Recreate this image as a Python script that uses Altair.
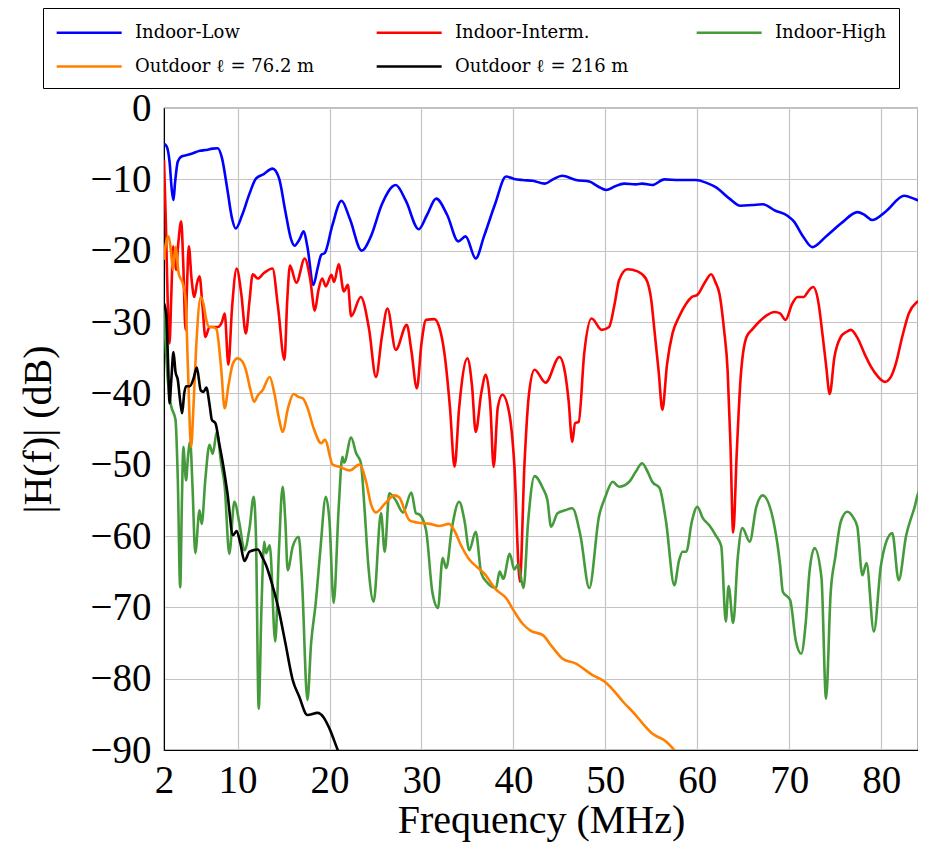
import altair as alt
import pandas as pd

# ---------------- data ----------------
series_names = ["Indoor-Low", "Indoor-Interm.", "Indoor-High",
                "Outdoor ℓ = 76.2 m", "Outdoor ℓ = 216 m"]
series_colors = ["#0000ff", "#ff0000", "#459b3b", "#ff8000", "#000000"]

low_f = [2.0, 2.3, 2.6, 2.85, 3.03, 3.2, 3.5, 3.9, 4.5, 5.0, 5.9, 6.5, 7.3, 7.85, 8.3, 8.9,
         9.4, 9.8, 10.5, 11.3, 12.0, 12.8, 13.8, 14.5, 15.2, 15.8, 16.2, 16.7, 17.2, 17.6,
         18.25, 18.7, 19.1, 19.5, 20.3, 21.3, 22.2, 23.5, 24.5, 25.7, 27.2, 28.3, 29.7, 30.6,
         31.6, 32.8, 34.0, 34.8, 35.9, 36.8, 38.0, 39.2, 40.1, 41.0, 42.1, 43.4, 44.3, 45.3,
         46.8, 48.25, 49.2, 50.1, 51.0, 52.05, 53.3, 54.0, 55.1, 56.4, 58.0, 59.85, 61.0, 62.0,
         63.5, 64.7, 66.0, 67.1, 68.5, 69.8, 70.5, 71.5, 72.5, 74.0, 75.8, 77.4, 78.2, 79.0,
         80.5, 82.5, 83.7, 84.8, 85.5]
low_db = [-5.0, -5.4, -7.5, -11.5, -12.9, -10.5, -7.5, -6.8, -6.6, -6.4, -6.0, -5.9, -5.7, -5.65,
          -7.0, -11.5, -15.5, -16.9, -15.0, -12.0, -9.9, -9.3, -8.5, -9.8, -14.5, -18.3, -19.3,
          -18.5, -17.3, -19.5, -24.8, -22.5, -20.6, -20.3, -16.5, -13.0, -15.5, -20.0, -18.0,
          -13.5, -10.8, -13.0, -17.0, -15.0, -12.7, -15.0, -18.7, -18.0, -21.1, -18.0, -13.5,
          -9.6, -9.95, -10.1, -10.2, -10.6, -10.0, -9.5, -10.1, -10.3, -11.0, -11.5, -11.0,
          -10.6, -10.7, -10.6, -10.8, -10.0, -10.1, -10.1, -10.5, -11.1, -12.7, -13.7, -13.6,
          -13.5, -14.4, -15.1, -15.9, -18.0, -19.5, -18.0, -16.0, -14.6, -15.0, -15.7, -14.5,
          -12.3, -12.8, -13.3, -13.4]

int_f = [2.0, 2.2, 2.4, 2.6, 2.8, 3.0, 3.3, 3.55, 3.87, 4.1, 4.34, 4.5, 4.7, 5.0, 5.3, 5.6,
         5.86, 6.2, 6.5, 6.95, 7.4, 7.85, 8.3, 8.6, 9.0, 9.4, 9.9, 10.4, 10.9, 11.3, 11.65,
         12.2, 12.9, 13.8, 14.4, 15.1, 15.4, 15.7, 16.4, 17.3, 17.9, 18.4, 18.8, 19.2, 19.6,
         20.2, 20.5, 21.0, 21.55, 22.0, 22.35, 23.4, 24.3, 25.05, 25.7, 26.3, 27.2, 28.4, 28.9,
         29.5, 30.0, 30.5, 31.4, 32.0, 32.5, 33.1, 33.6, 34.1, 35.0, 35.5, 35.9, 36.5, 37.0,
         37.5, 37.85, 38.3, 38.8, 39.55, 40.1, 40.7, 41.2, 41.7, 42.3, 43.5, 45.0, 45.6, 46.0,
         46.4, 46.7, 47.1, 47.7, 48.5, 49.6, 50.4, 51.0, 51.5, 52.4, 53.5, 54.4, 55.0, 55.3,
         55.8, 56.2, 56.7, 57.3, 58.0, 58.8, 59.4, 60.0, 60.8, 61.5, 62.0, 62.4, 62.9, 63.3,
         63.6, 63.9, 64.3, 64.7, 65.35, 66.0, 66.7, 67.5, 68.4, 69.0, 69.6, 70.3, 70.9, 71.6,
         72.0, 72.6, 73.2, 73.6, 74.0, 74.4, 74.9, 75.6, 76.2, 76.7, 77.4, 78.2, 78.9, 79.6,
         80.4, 81.0, 81.6, 82.3, 83.0, 83.8, 84.7, 85.5]
int_db = [-7.3, -16.0, -27.0, -33.0, -26.0, -19.4, -22.7, -19.0, -15.9, -22.0, -31.1, -25.0,
          -19.4, -24.0, -26.5, -24.5, -23.6, -28.0, -32.1, -30.7, -30.7, -30.7, -30.0, -28.8,
          -36.0, -28.0, -22.5, -26.0, -31.6, -27.0, -23.3, -23.9, -23.1, -22.5, -27.9, -35.3,
          -27.0, -22.1, -24.5, -21.1, -24.0, -28.4, -25.5, -23.9, -25.0, -23.4, -24.4, -21.9,
          -25.7, -24.8, -29.2, -26.5, -31.0, -37.7, -32.0, -28.1, -33.9, -30.4, -34.0, -39.3,
          -33.0, -29.7, -29.6, -31.0, -34.4, -42.0, -50.3, -42.0, -35.1, -39.0, -45.4, -40.0,
          -37.4, -42.0, -50.3, -42.0, -40.2, -42.8, -50.0, -66.4, -50.0, -40.0, -36.7, -38.5,
          -34.9, -37.0, -41.0, -46.8, -44.2, -44.0, -34.4, -29.5, -31.1, -30.7, -27.5, -24.1,
          -22.6, -22.9, -23.9, -27.0, -30.7, -37.0, -42.3, -36.0, -31.6, -29.3, -27.4, -26.5,
          -26.2, -24.5, -23.3, -24.5, -26.0, -31.0, -36.9, -47.0, -59.5, -48.0, -38.0, -32.1,
          -31.0, -30.0, -29.1, -28.6, -28.8, -29.7, -27.5, -26.5, -26.5, -25.8, -25.1, -27.5,
          -31.6, -36.0, -40.1, -35.0, -32.1, -31.4, -31.1, -32.2, -34.5, -36.3, -37.6, -38.4,
          -37.8, -35.8, -32.0, -28.8, -27.3, -26.8, -26.8]

high_f = [2.0, 2.3, 2.6, 2.8, 3.25, 3.5, 3.76, 3.95, 4.1, 4.4, 4.6, 4.85, 5.1, 5.4, 5.86, 6.1,
          6.5, 6.95, 7.3, 7.75, 8.2, 8.6, 9.1, 9.65, 10.2, 10.75, 11.3, 11.75, 12.0, 12.3, 12.6,
          12.9, 13.1, 13.5, 14.1, 14.5, 14.9, 15.2, 15.45, 16.0, 16.65, 17.0, 17.6, 18.0, 18.5,
          19.0, 19.6, 20.0, 20.45, 21.0, 21.4, 21.6, 22.35, 22.9, 23.4, 23.8, 24.2, 24.8, 25.6,
          26.0, 26.5, 27.2, 28.0, 28.9, 29.4, 29.8, 30.5, 31.2, 31.8, 32.3, 32.7, 33.3, 34.1,
          34.7, 35.2, 35.9, 36.5, 37.2, 38.1, 38.5, 38.9, 39.6, 40.1, 40.5, 41.1, 41.6, 42.3,
          43.2, 43.7, 44.1, 44.8, 45.6, 46.4, 47.3, 48.25, 49.3, 50.0, 50.8, 51.5, 52.6, 53.3,
          54.0, 54.6, 55.1, 55.9, 56.6, 57.5, 58.0, 58.4, 58.8, 59.4, 60.0, 60.6, 61.3, 62.0,
          62.6, 63.1, 63.4, 63.9, 64.4, 64.9, 65.7, 66.4, 67.1, 68.4, 69.0, 69.3, 70.1, 70.7,
          71.3, 71.8, 72.2, 72.75, 73.5, 74.0, 74.5, 75.0, 75.6, 76.3, 77.0, 77.4, 77.95, 78.4,
          79.2, 79.95, 80.5, 81.2, 81.9, 82.7, 83.6, 84.2, 84.8, 85.5]
high_db = [-28.0, -36.0, -40.5, -41.9, -43.7, -52.0, -67.2, -55.0, -47.5, -52.2, -49.0, -46.8,
           -53.0, -62.4, -56.4, -58.3, -52.0, -47.2, -48.5, -45.4, -49.7, -53.0, -62.5, -55.2,
           -58.2, -62.0, -58.9, -54.5, -60.0, -84.2, -70.0, -60.8, -62.4, -61.3, -74.8, -62.0,
           -53.1, -58.0, -64.8, -61.5, -60.1, -66.0, -83.0, -75.0, -69.4, -62.0, -54.5, -58.0,
           -69.4, -56.0, -48.9, -49.7, -46.2, -48.4, -49.7, -56.0, -63.8, -69.2, -56.8, -62.2,
           -54.0, -55.0, -56.7, -53.9, -56.8, -57.0, -59.2, -68.0, -70.1, -63.1, -64.5, -59.0,
           -55.2, -58.0, -62.0, -59.4, -65.2, -66.6, -67.3, -65.0, -66.0, -62.5, -64.7, -64.0,
           -67.3, -58.0, -51.6, -53.3, -55.0, -58.7, -56.8, -56.4, -56.1, -60.0, -67.3, -57.3,
           -54.5, -52.4, -53.1, -52.4, -51.0, -49.8, -51.0, -52.4, -53.3, -58.0, -66.9, -63.5,
           -62.2, -62.2, -58.0, -55.9, -57.5, -58.5, -59.9, -61.4, -72.0, -67.0, -72.2, -63.0,
           -58.9, -60.8, -56.0, -54.3, -58.7, -64.0, -67.8, -69.0, -74.6, -76.5, -72.0, -65.0,
           -61.7, -65.8, -82.8, -68.0, -63.0, -58.0, -56.6, -57.5, -58.7, -65.5, -63.8, -73.4,
           -64.3, -61.0, -59.6, -66.2, -60.0, -56.1, -53.5, -57.3, -58.0]

out76_f = [2.0, 2.2, 2.5, 2.75, 2.97, 3.25, 3.6, 4.1, 4.35, 4.6, 4.95, 5.2, 5.5, 6.0, 6.3, 6.6,
           6.9, 7.3, 7.7, 8.2, 8.6, 9.0, 9.5, 10.0, 10.5, 10.9, 11.4, 11.8, 12.2, 12.7, 13.5,
           14.0, 14.5, 14.9, 15.5, 16.1, 16.6, 17.1, 17.6, 18.3, 19.1, 19.5, 20.35, 21.1, 22.2,
           23.25, 24.0, 24.5, 25.05, 26.0, 27.05, 27.6, 28.2, 28.7, 29.5, 30.9, 31.9, 33.0,
           33.6, 34.3, 35.2, 36.0, 36.8, 38.1, 39.2, 40.1, 41.0, 41.9, 43.2, 44.2, 45.35, 46.8,
           48.6, 49.9, 51.0, 51.9, 53.3, 54.2, 55.1, 56.6, 57.5, 58.3]
out76_db = [-21.3, -19.0, -18.0, -20.0, -22.7, -19.5, -23.2, -24.8, -27.0, -36.3, -47.5, -42.0,
            -33.5, -26.5, -27.5, -29.7, -30.7, -30.7, -31.0, -36.3, -42.1, -39.0, -35.8, -35.1,
            -35.5, -36.7, -39.5, -41.2, -40.3, -39.6, -37.7, -40.0, -43.5, -45.4, -42.0, -40.1,
            -40.5, -40.7, -42.0, -45.0, -47.0, -46.5, -50.0, -50.3, -50.8, -50.0, -52.5, -55.5,
            -56.7, -55.5, -54.3, -54.6, -56.5, -57.8, -58.1, -58.3, -58.6, -58.3, -59.3, -61.3,
            -63.3, -64.3, -65.2, -67.5, -68.7, -70.6, -72.3, -73.3, -73.9, -75.5, -77.2, -77.9,
            -79.5, -80.4, -81.8, -83.2, -85.1, -86.5, -87.7, -88.8, -90.0, -91.3]

out216_f = [2.0, 2.25, 2.45, 2.6, 2.8, 3.03, 3.25, 3.5, 3.75, 3.97, 4.2, 4.4, 4.8, 5.2, 5.57,
            6.0, 6.3, 6.6, 7.0, 7.2, 7.6, 8.0, 8.4, 8.9, 9.5, 9.9, 10.3, 10.75, 11.3, 12.2,
            12.7, 13.1, 13.7, 14.4, 15.2, 16.0, 16.7, 17.6, 18.7, 19.4, 20.0, 20.9, 21.4]
out216_db = [-27.4, -29.0, -36.0, -41.4, -38.0, -34.2, -37.0, -38.1, -41.0, -42.8, -40.0, -39.0,
             -39.0, -38.0, -36.4, -39.6, -39.8, -39.2, -42.0, -43.7, -44.2, -47.0, -49.8, -54.0,
             -59.9, -59.3, -61.0, -63.5, -62.2, -61.9, -63.0, -64.1, -66.5, -69.9, -75.0, -80.2,
             -82.5, -85.1, -84.8, -85.5, -87.0, -90.0, -91.5]

x_ticks = [2, 10, 20, 30, 40, 50, 60, 70, 80]
y_ticks = [-90, -80, -70, -60, -50, -40, -30, -20, -10, 0]

# ---------------- table ----------------
frames = []
for name, fs, dbs in zip(series_names,
                         [low_f, int_f, high_f, out76_f, out216_f],
                         [low_db, int_db, high_db, out76_db, out216_db]):
    frames.append(pd.DataFrame({"f": fs, "db": dbs, "series": name}))
df = pd.concat(frames, ignore_index=True)

FONT = "Liberation Serif"
LEGEND_FONT = "DejaVu Serif"

color = alt.Color(
    "series:N",
    scale=alt.Scale(domain=series_names, range=series_colors),
    legend=alt.Legend(
        title=None, orient="none", legendX=-121, legendY=-100,
        direction="horizontal", columns=3, gridAlign="all",
        symbolType="M-1,0H5", symbolSize=469, symbolStrokeWidth=2.5,
        labelFont=LEGEND_FONT, labelFontSize=18, labelColor="black",
        labelOffset=55, columnPadding=56, rowPadding=12, padding=12,
        strokeColor="black", fillColor="white", labelLimit=400,
    ),
)

x = alt.X("f:Q",
          scale=alt.Scale(domain=[2, 84], nice=False, zero=False),
          axis=alt.Axis(values=x_ticks, title="Frequency (MHz)", format="d",
                        labelFont=FONT, labelFontSize=39, labelColor="black",
                        titleFont=FONT, titleFontSize=40, titleFontWeight="normal",
                        titleColor="black", labelFlush=False, labelOverlap=False,
                        ticks=False, labelPadding=11, domainColor="black",
                        gridColor="#c4c4c4", gridWidth=1.2,
                        titleY=70, titleBaseline="middle"))
y = alt.Y("db:Q",
          scale=alt.Scale(domain=[-90, 0], nice=False),
          axis=alt.Axis(values=y_ticks, title="|H(f)| (dB)", format="d",
                        labelFont=FONT, labelFontSize=39, labelColor="black",
                        titleFont=FONT, titleFontSize=40, titleFontWeight="normal",
                        titleColor="black", labelOverlap=False,
                        ticks=False, labelPadding=13, domainColor="black",
                        gridColor="#c4c4c4", gridWidth=1.2,
                        titleX=-126, titleBaseline="middle"))

base = alt.Chart(df).mark_line(strokeWidth=2.6, interpolate="monotone", clip=True).encode(
    x=x, y=y, color=color, order="f:Q")

layers = [base.transform_filter(alt.datum.series == n) for n in series_names]

chart = alt.layer(*layers).properties(
    width=754, height=642,
    autosize=alt.AutoSizeParams(type="none"),
    padding={"left": 156, "top": 100, "right": 0, "bottom": 92},
).configure_view(stroke="black", strokeWidth=1.2)

chart.save("out.html", embed_options={"renderer": "svg", "actions": False})
